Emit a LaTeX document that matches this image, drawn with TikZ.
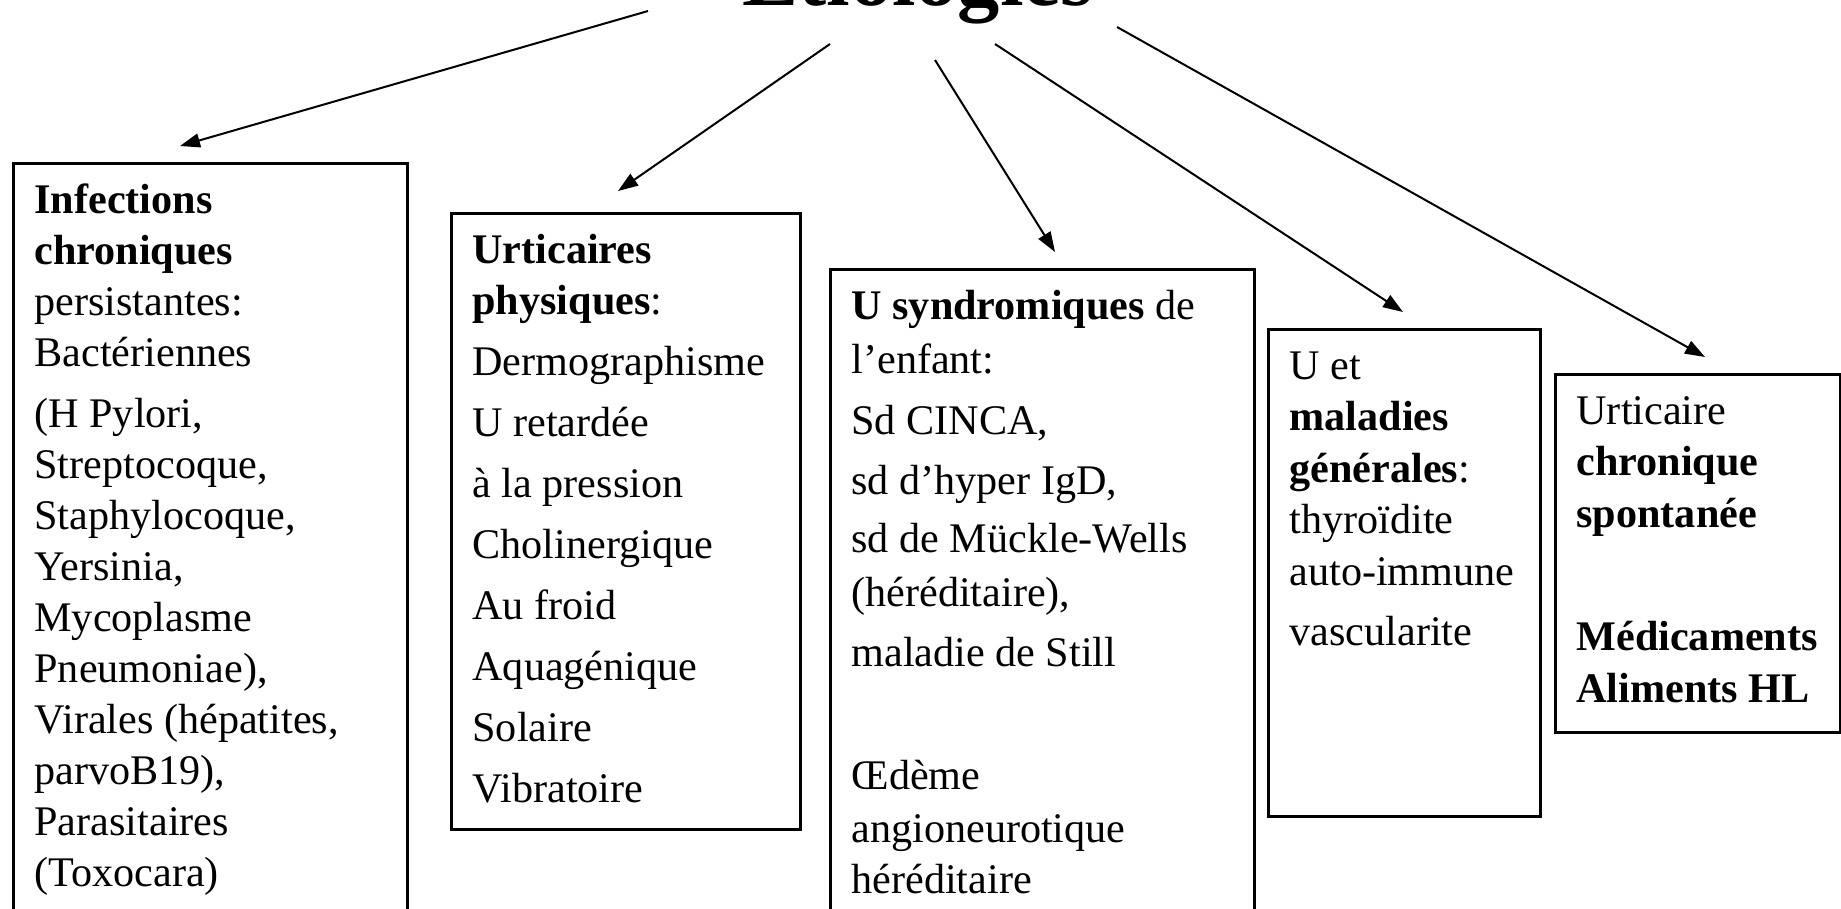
\documentclass[tikz,border=0pt]{standalone}
\usepackage{fontspec}
\setmainfont{Liberation Serif}
\usetikzlibrary{arrows.meta}
\usetikzlibrary{positioning}

\newcommand{\etiotext}[3]{\parbox[t][#1][t]{#2}{\raggedright\rule{0pt}{5mm}#3}}

\tikzset{
    etiobox/.style={
        draw,
        line width=0.3mm,
        anchor=north west,
        inner xsep=2.1mm,
        inner ysep=0pt,
        font=\fontsize{12pt}{5.1mm}\selectfont
    },
    etioarrow/.style={
        draw,
        -{Triangle[length=2mm, width=1.4mm]},
        line width=0.2mm
    }
}

\begin{document}
\begin{tikzpicture}[x=0.1mm, y=-0.1mm]
    \useasboundingbox (0,0) rectangle (1841,908);
    \clip (0,0) rectangle (1841,908);

    \node[font=\fontsize{24pt}{28pt}\selectfont\bfseries, anchor=base] (titre) at (918,5) {Etiologies};

    \node[etiobox] (infect) at (12,162) {\etiotext{76.8mm}{35.2mm}{%
        \textbf{Infections}\\ \textbf{chroniques}\\ persistantes:\\ Bactériennes\\[1mm]
        (H Pylori,\\ Streptocoque,\\ Staphylocoque,\\ Yersinia,\\ Mycoplasme\\ Pneumoniae),\\
        Virales (hépatites,\\ parvoB19),\\ Parasitaires\\ (Toxocara)}};
    \node[etiobox] (physiq) at (450,212) {\etiotext{61.6mm}{30.7mm}{%
        \textbf{Urticaires}\\ \textbf{physiques}:\\[1mm] Dermographisme\\[1mm] U retardée\\[1mm]
        à la pression\\[1mm] Cholinergique\\[1mm] Au froid\\[1mm] Aquagénique\\[1mm] Solaire\\[1mm] Vibratoire}};
    \node[etiobox] (syndrom) at (829,268) {\etiotext{66.2mm}{38.2mm}{%
        \textbf{U syndromiques} de\\[0.3mm] l’enfant:\\[1mm] Sd CINCA,\\[0.9mm] sd d’hyper IgD,\\[0.7mm]
        sd de Mückle-Wells\\[0.3mm] (héréditaire),\\[0.9mm] maladie de Still\\[7.2mm]
        Œdème\\[0.2mm] angioneurotique\\ héréditaire}};
    \node[etiobox] (malgen) at (1267,328) {\etiotext{48.7mm}{23.0mm}{%
        U et\\ \textbf{maladies}\\[0.1mm] \textbf{générales}:\\ thyroïdite\\[0.1mm] auto-immune\\[0.9mm] vascularite}};
    \node[etiobox] (chron) at (1554,373) {\etiotext{35.8mm}{24.3mm}{%
        Urticaire\\ \textbf{chronique}\\[0.1mm] \textbf{spontanée}\\[7.2mm] \textbf{Médicaments}\\[0.1mm] \textbf{Aliments HL}}};

    \coordinate (from1) at (648,11);
    \coordinate (from2) at (830,44);
    \coordinate (from3) at (935,60);
    \coordinate (from4) at (995,44);
    \coordinate (from5) at (1117,27);
    \coordinate (to1) at (180,146);
    \coordinate (to2) at (618,191);
    \coordinate (to3) at (1055,252);
    \coordinate (to4) at (1403,312);
    \coordinate (to5) at (1705,357);

    \draw[etioarrow] (from1) -- (to1);
    \draw[etioarrow] (from2) -- (to2);
    \draw[etioarrow] (from3) -- (to3);
    \draw[etioarrow] (from4) -- (to4);
    \draw[etioarrow] (from5) -- (to5);
\end{tikzpicture}
\end{document}
